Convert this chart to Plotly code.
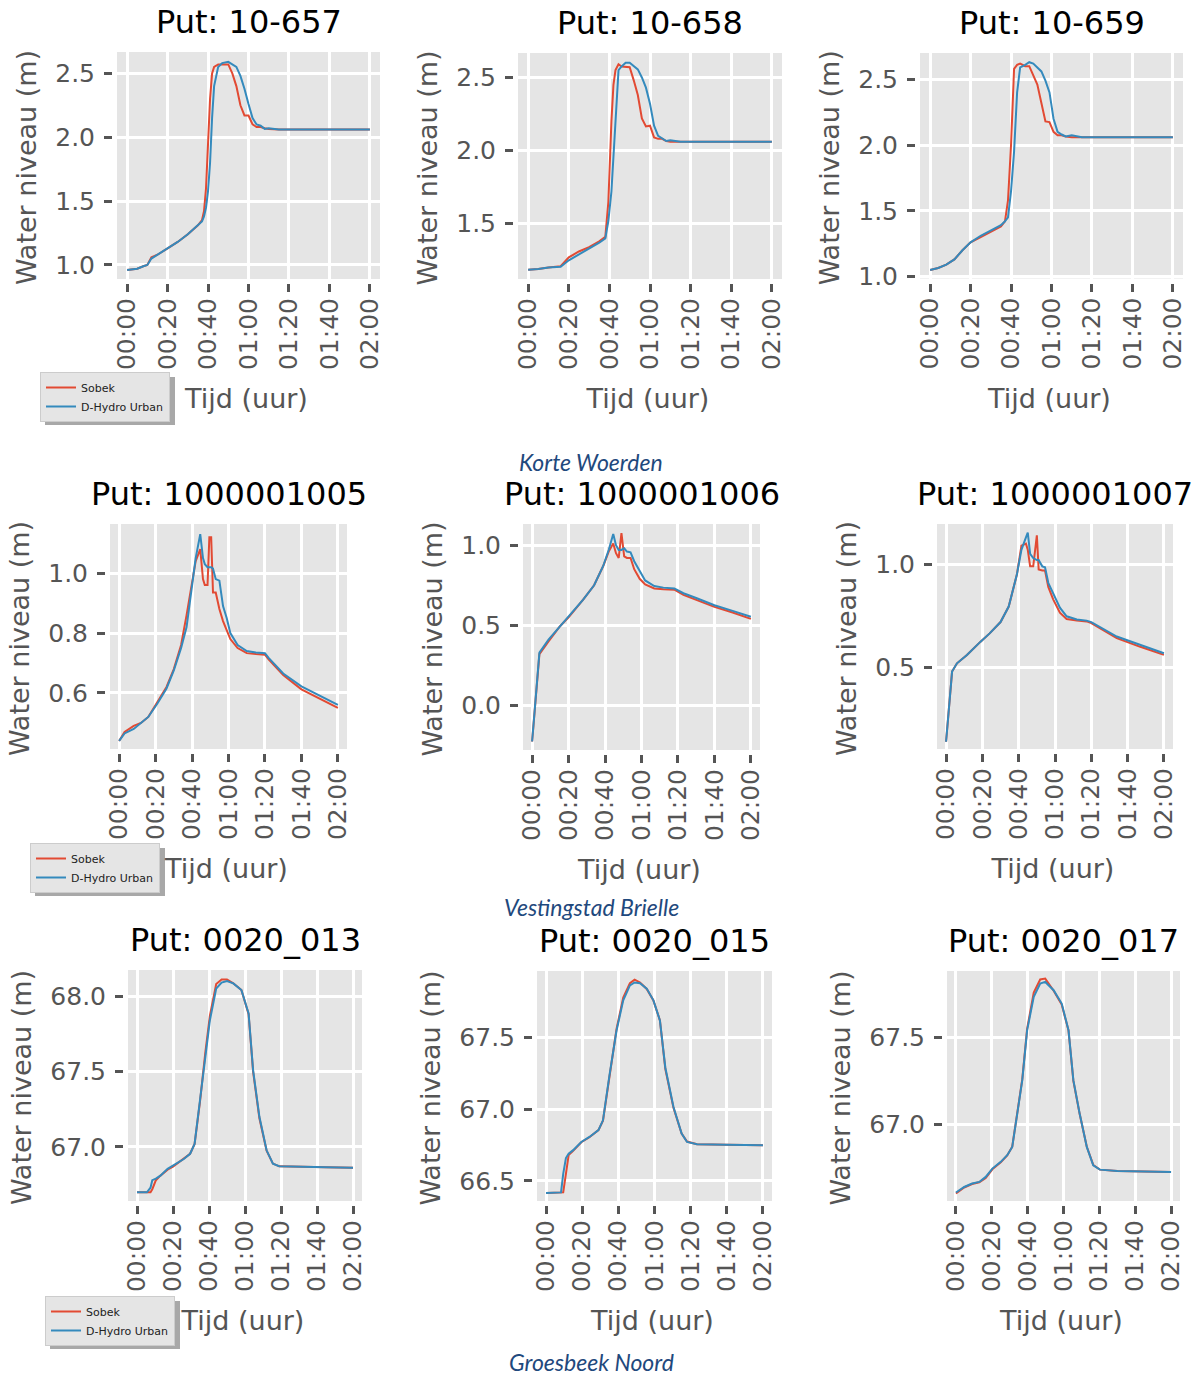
import plotly.graph_objects as go

# time axis in minutes after 00:00
x_ticks = [0, 20, 40, 60, 80, 100, 120]
x_tick_labels = ["00:00", "00:20", "00:40", "01:00", "01:20", "01:40", "02:00"]

# Korte Woerden
t_10657 = [0, 5, 8, 10, 12, 15, 20, 25, 30, 35, 37, 38, 39, 40, 41, 42, 43, 45, 47, 50,
           52, 54, 56, 58, 60, 62, 64, 66, 68, 70, 75, 80, 90, 100, 110, 120]
sobek_10657 = [0.96, 0.97, 0.99, 1.00, 1.06, 1.08, 1.13, 1.18, 1.24, 1.31, 1.35, 1.42, 1.60, 1.95,
               2.30, 2.50, 2.55, 2.57, 2.57, 2.57, 2.50, 2.40, 2.25, 2.17, 2.17, 2.10, 2.08, 2.08,
               2.07, 2.065, 2.06, 2.06, 2.06, 2.06, 2.06, 2.06]
dhydro_10657 = [0.96, 0.97, 0.99, 1.00, 1.05, 1.08, 1.13, 1.18, 1.24, 1.31, 1.34, 1.38, 1.45, 1.58,
                1.80, 2.15, 2.40, 2.55, 2.58, 2.59, 2.57, 2.55, 2.48, 2.38, 2.26, 2.15, 2.10, 2.09,
                2.065, 2.07, 2.06, 2.06, 2.06, 2.06, 2.06, 2.06]
yticks_10657 = [1.0, 1.5, 2.0, 2.5]

t_10658 = [0, 5, 10, 16, 20, 25, 30, 35, 38, 39.5, 41, 42, 43, 44.5, 46, 48, 50, 52, 54, 56,
           58, 60, 62, 64, 66, 68, 70, 75, 90, 105, 120]
sobek_10658 = [1.186, 1.19, 1.20, 1.21, 1.27, 1.31, 1.34, 1.38, 1.41, 1.65, 2.20, 2.45, 2.55, 2.59,
               2.575, 2.575, 2.57, 2.48, 2.38, 2.22, 2.165, 2.17, 2.09, 2.08, 2.08, 2.065, 2.06,
               2.06, 2.06, 2.06, 2.06]
dhydro_10658 = [1.186, 1.19, 1.20, 1.205, 1.25, 1.29, 1.33, 1.37, 1.40, 1.52, 1.72, 1.95, 2.20,
                2.55, 2.575, 2.60, 2.60, 2.575, 2.555, 2.50, 2.43, 2.32, 2.17, 2.10, 2.085, 2.065,
                2.07, 2.06, 2.06, 2.06, 2.06]
yticks_10658 = [1.5, 2.0, 2.5]

t_10659 = [0, 4, 8, 12, 16, 20, 25, 30, 35, 37, 38.5, 40, 41.5, 43, 44.5, 47, 49, 51, 53, 55,
           57, 59, 61, 63, 65, 67, 70, 75, 90, 105, 120]
sobek_10659 = [1.05, 1.065, 1.09, 1.13, 1.20, 1.26, 1.30, 1.34, 1.38, 1.42, 1.58, 2.00, 2.58, 2.61,
               2.62, 2.60, 2.60, 2.53, 2.46, 2.32, 2.18, 2.175, 2.10, 2.075, 2.075, 2.065, 2.06,
               2.06, 2.06, 2.06, 2.06]
dhydro_10659 = [1.05, 1.065, 1.09, 1.13, 1.20, 1.26, 1.31, 1.35, 1.39, 1.42, 1.45, 1.65, 1.95,
                2.40, 2.59, 2.61, 2.63, 2.62, 2.59, 2.56, 2.49, 2.40, 2.20, 2.10, 2.08, 2.065,
                2.075, 2.06, 2.06, 2.06, 2.06]
yticks_10659 = [1.0, 1.5, 2.0, 2.5]

# Vestingstad Brielle
t_1005 = [0, 3, 8, 12, 16, 21, 26, 30, 34, 37, 40, 42, 44.5, 46, 47, 48.5, 49.5, 50.5, 51.5, 53,
          55, 57, 59, 61, 65, 70, 75, 80, 82, 90, 100, 110, 120]
sobek_1005 = [0.44, 0.47, 0.49, 0.50, 0.52, 0.57, 0.62, 0.68, 0.76, 0.86, 0.96, 1.04, 1.08, 0.98,
              0.96, 0.96, 1.12, 1.12, 0.935, 0.935, 0.88, 0.84, 0.81, 0.78, 0.75, 0.733, 0.73,
              0.728, 0.712, 0.66, 0.612, 0.58, 0.55]
dhydro_1005 = [0.44, 0.465, 0.48, 0.50, 0.52, 0.565, 0.615, 0.675, 0.75, 0.82, 0.95, 1.05, 1.13,
               1.05, 1.03, 1.02, 1.02, 1.02, 1.015, 0.98, 0.975, 0.89, 0.85, 0.80, 0.76, 0.74,
               0.735, 0.733, 0.717, 0.665, 0.622, 0.59, 0.56]
yticks_1005 = [0.6, 0.8, 1.0]

t_1006 = [0, 4, 9, 15, 20, 28, 34, 39, 42, 44.5, 46, 47.5, 49, 50.5, 52, 54, 56, 59, 62, 67, 72,
          78, 83, 90, 100, 110, 120]
sobek_1006 = [-0.225, 0.32, 0.40, 0.49, 0.55, 0.66, 0.75, 0.87, 0.96, 1.01, 0.95, 0.92, 1.075,
              0.93, 0.92, 0.92, 0.85, 0.79, 0.755, 0.73, 0.725, 0.722, 0.69, 0.66, 0.615, 0.58,
              0.54]
dhydro_1006 = [-0.225, 0.33, 0.41, 0.49, 0.55, 0.66, 0.75, 0.87, 0.97, 1.07, 1.0, 0.97, 0.97,
               0.98, 0.96, 0.955, 0.90, 0.84, 0.78, 0.745, 0.735, 0.73, 0.70, 0.67, 0.625, 0.59,
               0.553]
yticks_1006 = [0.0, 0.5, 1.0]

t_1007 = [0, 3.3, 6, 11.5, 19, 24, 30, 34.5, 39, 41.5, 44, 45, 46.3, 48, 50, 51, 53, 54.5, 56.3,
          59, 62.7, 66.4, 72, 77.4, 80, 94, 107, 120]
sobek_1007 = [0.14, 0.48, 0.52, 0.56, 0.625, 0.665, 0.72, 0.795, 0.95, 1.09, 1.10, 1.07, 0.99,
              0.99, 1.14, 0.975, 0.97, 0.97, 0.89, 0.83, 0.765, 0.735, 0.727, 0.723, 0.715,
              0.642, 0.60, 0.561]
dhydro_1007 = [0.14, 0.48, 0.52, 0.56, 0.625, 0.665, 0.72, 0.795, 0.95, 1.07, 1.13, 1.153, 1.05,
               1.03, 1.02, 1.02, 0.99, 0.985, 0.91, 0.86, 0.79, 0.748, 0.732, 0.727, 0.72, 0.65,
               0.61, 0.569]
yticks_1007 = [0.5, 1.0]

# Groesbeek Noord
t_013 = [0, 5.5, 7.5, 8.5, 10.5, 13, 17, 20, 26, 29.5, 32, 35, 38, 40.5, 44, 47, 50, 53.5, 58,
         62, 64.5, 68, 72, 75.5, 79, 90, 105, 120]
sobek_013 = [66.70, 66.70, 66.70, 66.72, 66.78, 66.81, 66.85, 66.87, 66.92, 66.955, 67.02, 67.30,
             67.63, 67.87, 68.08, 68.11, 68.11, 68.085, 68.04, 67.88, 67.50, 67.19, 66.975,
             66.89, 66.872, 66.867, 66.865, 66.863]
dhydro_013 = [66.70, 66.70, 66.73, 66.78, 66.79, 66.81, 66.855, 66.878, 66.92, 66.955, 67.02,
              67.31, 67.62, 67.84, 68.05, 68.09, 68.10, 68.084, 68.04, 67.885, 67.51, 67.20,
              66.978, 66.889, 66.872, 66.867, 66.865, 66.863]
yticks_013 = [67.0, 67.5, 68.0]

t_015 = [0, 8.3, 9.5, 11, 12.5, 15, 19.5, 24, 29, 31.5, 35, 39, 42.7, 46.4, 49, 52, 55.7, 59.4,
         63, 66, 70.5, 75, 78, 83.5, 100, 120]
sobek_015 = [66.415, 66.415, 66.42, 66.55, 66.68, 66.71, 66.77, 66.805, 66.855, 66.92, 67.22,
             67.56, 67.78, 67.88, 67.905, 67.885, 67.84, 67.76, 67.62, 67.28, 67.01, 66.83,
             66.775, 66.756, 66.752, 66.749]
dhydro_015 = [66.415, 66.42, 66.55, 66.66, 66.69, 66.715, 66.772, 66.807, 66.855, 66.923, 67.23,
              67.55, 67.76, 67.865, 67.885, 67.88, 67.842, 67.76, 67.62, 67.29, 67.016, 66.83,
              66.772, 66.756, 66.752, 66.749]
yticks_015 = [66.5, 67.0, 67.5]

t_017 = [0, 4.6, 9, 13, 16.6, 20.3, 25, 28.6, 31.4, 34.2, 37, 39.7, 43.4, 47, 49.8, 54.5, 59,
         62.8, 65.5, 69, 73, 76.6, 80.3, 90, 105, 120]
sobek_017 = [66.60, 66.635, 66.655, 66.665, 66.69, 66.74, 66.78, 66.82, 66.87, 67.06, 67.26,
             67.55, 67.76, 67.835, 67.84, 67.77, 67.69, 67.54, 67.25, 67.06, 66.87, 66.765,
             66.738, 66.73, 66.727, 66.725]
dhydro_017 = [66.606, 66.638, 66.658, 66.667, 66.696, 66.744, 66.783, 66.821, 66.869, 67.062,
              67.254, 67.542, 67.735, 67.812, 67.821, 67.773, 67.696, 67.542, 67.254, 67.062,
              66.869, 66.763, 66.738, 66.73, 66.727, 66.725]
yticks_017 = [67.0, 67.5]

put_names = ["10-657", "10-658", "10-659",
             "1000001005", "1000001006", "1000001007",
             "0020_013", "0020_015", "0020_017"]
captions = ["Korte Woerden", "Vestingstad Brielle", "Groesbeek Noord"]

series = [
    (t_10657, sobek_10657, dhydro_10657, yticks_10657),
    (t_10658, sobek_10658, dhydro_10658, yticks_10658),
    (t_10659, sobek_10659, dhydro_10659, yticks_10659),
    (t_1005, sobek_1005, dhydro_1005, yticks_1005),
    (t_1006, sobek_1006, dhydro_1006, yticks_1006),
    (t_1007, sobek_1007, dhydro_1007, yticks_1007),
    (t_013, sobek_013, dhydro_013, yticks_013),
    (t_015, sobek_015, dhydro_015, yticks_015),
    (t_017, sobek_017, dhydro_017, yticks_017),
]

# visible y span of each grey panel (bottom, top)
y_spans = [(0.89, 2.667), (1.122, 2.667), (0.985, 2.70),
           (0.413, 1.164), (-0.278, 1.132), (0.105, 1.195),
           (66.642, 68.173), (66.36, 67.965), (66.557, 67.884)]
x_span = (-5, 125)

# ---- layout geometry (pixels in the 1200x1376 page) ----
W, H = 1200, 1376
# grey panel boxes: left, right, top, bottom
boxes = [(117, 380, 52, 279), (518, 782, 53, 279), (920, 1183, 53, 278.5),
         (110, 347, 524, 749), (523, 760, 524, 750), (937, 1173, 524, 749),
         (128, 362, 970, 1201), (537, 772, 971, 1201), (947, 1180, 971, 1201)]
GAP = 4  # white strip between ticks and grey panel

RED = "#E24A33"
BLUE = "#348ABD"
GREY_TXT = "#555555"
FONT = "DejaVu Sans"


def fx(px):
    return px / W


def fy(py):
    return 1 - py / H


fig = go.Figure()
annotations = []
shapes = []
legend_names = {0: "legend", 3: "legend2", 6: "legend3"}

for i, (t, sob, dhy, yt) in enumerate(series):
    n = "" if i == 0 else str(i + 1)
    xa, ya = "x" + n, "y" + n
    left, right, top, bottom = boxes[i]
    ybot, ytop = y_spans[i]
    ppx = (right - left) / (x_span[1] - x_span[0])
    ppy = (bottom - top) / (ytop - ybot)
    xr = [x_span[0] - GAP / ppx, x_span[1]]
    yr = [ybot - GAP / ppy, ytop]

    leg = legend_names.get(i)
    fig.add_trace(go.Scatter(x=t, y=sob, mode="lines", name="Sobek",
                             line=dict(color=RED, width=2), xaxis=xa, yaxis=ya,
                             showlegend=leg is not None, legend=leg or "legend"))
    fig.add_trace(go.Scatter(x=t, y=dhy, mode="lines", name="D-Hydro Urban",
                             line=dict(color=BLUE, width=2), xaxis=xa, yaxis=ya,
                             showlegend=leg is not None, legend=leg or "legend"))

    axis_common = dict(showgrid=True, gridcolor="white", gridwidth=2.5, zeroline=False,
                       showline=False, ticks="outside", ticklen=8, tickwidth=2.5,
                       tickcolor=GREY_TXT, tickfont=dict(family=FONT, size=25, color=GREY_TXT),
                       automargin=False)
    fig.layout["xaxis" + n] = dict(
        axis_common, domain=[fx(left - GAP), fx(right)], range=xr, anchor=ya,
        tickmode="array", tickvals=x_ticks, ticktext=x_tick_labels, tickangle=-90,
        ticklabelstandoff=-4,
        title=dict(text="Tijd (uur)", font=dict(family=FONT, size=27, color=GREY_TXT),
                   standoff=20))
    fig.layout["yaxis" + n] = dict(
        axis_common, domain=[fy(bottom + GAP), fy(top)], range=yr, anchor=xa,
        tickmode="array", tickvals=yt, tickformat=".1f", ticklabelstandoff=4,
        title=dict(text="Water niveau (m)", font=dict(family=FONT, size=27, color=GREY_TXT),
                   standoff=10))

    shapes.append(dict(type="rect", xref=xa, yref=ya, x0=x_span[0], x1=x_span[1],
                       y0=ybot, y1=ytop, fillcolor="#E5E5E5", line=dict(width=0),
                       layer="below"))
    annotations.append(dict(text="Put: " + put_names[i], x=fx((left + right) / 2), y=fy(top),
                            xref="paper", yref="paper", xanchor="center", yanchor="bottom",
                            yshift=9, showarrow=False,
                            font=dict(family=FONT, size=32, color="black")))

for cap, cy in zip(captions, [462, 907, 1362]):
    annotations.append(dict(text="<i>" + cap + "</i>", x=fx(591), y=fy(cy), xref="paper",
                            yref="paper", xanchor="center", yanchor="middle", showarrow=False,
                            font=dict(family="Lato", size=23, color="#1F497D")))

# legends (with drop shadow) in the left column
legend_boxes = [(40, 372), (30, 843), (45, 1296)]
LEG_W, LEG_H = 130, 48
legend_style = dict(bgcolor="#E5E5E5", bordercolor="#CCCCCC", borderwidth=1,
                    font=dict(family=FONT, size=11, color="#222222"),
                    xanchor="left", yanchor="top", tracegroupgap=0, itemwidth=30)
for key, (lx, ly) in zip(["legend", "legend2", "legend3"], legend_boxes):
    fig.layout[key] = dict(legend_style, x=fx(lx), y=fy(ly))
    shapes.append(dict(type="rect", xref="paper", yref="paper", x0=fx(lx + 5),
                       x1=fx(lx + LEG_W + 5), y0=fy(ly + LEG_H + 5), y1=fy(ly + 5),
                       fillcolor="#A8A8A8", line=dict(width=0), layer="below"))

fig.update_layout(width=W, height=H, margin=dict(l=0, r=0, t=0, b=0),
                  paper_bgcolor="white", plot_bgcolor="rgba(0,0,0,0)",
                  annotations=annotations, shapes=shapes,
                  font=dict(family=FONT, color=GREY_TXT))

fig.write_html("out.html", config={"displayModeBar": False},
               post_script="document.body.style.margin = '0';")
